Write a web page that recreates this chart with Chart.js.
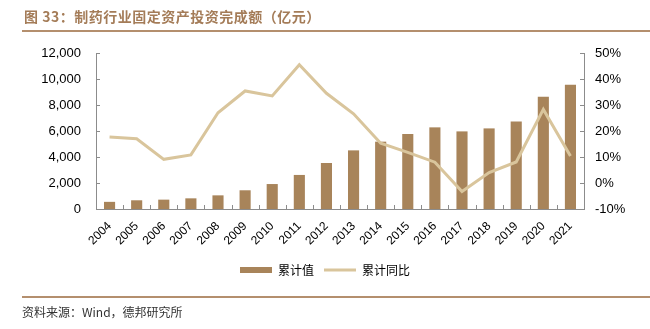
<!DOCTYPE html>
<html>
<head>
<meta charset="utf-8">
<script src="https://cdn.jsdelivr.net/npm/chart.js@4"></script>
<style>
  body { margin: 0; background: #fff; }
  #wrap { position: absolute; left: 0; top: 0; width: 650px; height: 329px; }
  #title { position: absolute; left: 24px; top: 6px; font: bold 14px "Noto Sans CJK SC", sans-serif; color: #a47c58; letter-spacing: 0.5px; white-space: nowrap; }
  .rule { position: absolute; left: 22px; right: 0; height: 2px; background: #b48f6e; }
  #src { position: absolute; left: 22px; top: 303px; font: 12px "Noto Sans CJK SC", sans-serif; color: #333; white-space: nowrap; }
</style>
</head>
<body>
<div id="wrap"><canvas id="myChart"></canvas></div>
<div id="title">图 33：制药行业固定资产投资完成额（亿元）</div>
<div class="rule" style="top:30px"></div>
<div class="rule" style="top:296px"></div>
<div id="src">资料来源：Wind，德邦研究所</div>
<script>
// data
var years = ['2004','2005','2006','2007','2008','2009','2010','2011','2012','2013','2014','2015','2016','2017','2018','2019','2020','2021'];
var cumValue = [550, 670, 720, 820, 1050, 1440, 1920, 2620, 3540, 4510, 5180, 5770, 6280, 5970, 6200, 6740, 8640, 9560];
var cumYoy = [17.7, 17.0, 9.1, 10.8, 27.0, 35.4, 33.5, 45.5, 34.5, 26.6, 15.3, 11.8, 8.0, -3.3, 4.0, 8.1, 28.3, 10.4];

var axisGrey = '#8c8c8c';

// short tick marks pointing into the plot
var innerTicks = {
  id: 'innerTicks',
  afterDraw: function(chart) {
    var ctx = chart.ctx;
    var x = chart.scales.x, y = chart.scales.y, y1 = chart.scales.y1;
    ctx.save();
    ctx.strokeStyle = axisGrey;
    ctx.lineWidth = 1;
    ctx.beginPath();
    y.ticks.forEach(function(t, i) {
      var p = Math.round(y.getPixelForTick(i)) + 0.5;
      ctx.moveTo(y.right, p); ctx.lineTo(y.right + 4, p);
    });
    y1.ticks.forEach(function(t, i) {
      var p = Math.round(y1.getPixelForTick(i)) + 0.5;
      ctx.moveTo(y1.left - 4, p); ctx.lineTo(y1.left, p);
    });
    for (var i = 0; i <= years.length; i++) {
      var px = Math.round(x.getPixelForValue(i - 0.5)) + 0.5;
      ctx.moveTo(px, x.top); ctx.lineTo(px, x.top - 4);
    }
    ctx.stroke();
    ctx.restore();
  }
};

var ctx = document.getElementById('myChart').getContext('2d');
var myChart = new Chart(ctx, {
  type: 'bar',
  data: {
    labels: years,
    datasets: [{
      label: '累计值',
      data: cumValue,
      backgroundColor: '#a8845a',
      categoryPercentage: 1,
      barPercentage: 0.41,
      yAxisID: 'y',
      order: 1
    }, {
      label: '累计同比',
      type: 'line',
      data: cumYoy,
      borderColor: '#d9c59c',
      backgroundColor: '#d9c59c',
      borderWidth: 3,
      pointRadius: 0,
      tension: 0,
      yAxisID: 'y1',
      order: 0
    }]
  },
  options: {
    responsive: true,
    maintainAspectRatio: false,
    animation: false,
    layout: { padding: { top: 53, left: 0, right: 0, bottom: 43 } },
    plugins: {
      tooltip: { enabled: false },
      legend: {
        position: 'bottom',
        labels: {
          usePointStyle: true,
          pointStyleWidth: 32,
          boxHeight: 6,
          padding: 10,
          color: '#222',
          font: { family: '"Noto Sans CJK SC", sans-serif', size: 12 },
          generateLabels: function(chart) {
            return chart.data.datasets.map(function(ds, i) {
              var isLine = ds.type === 'line';
              return {
                text: ds.label,
                fillStyle: isLine ? ds.borderColor : ds.backgroundColor,
                strokeStyle: isLine ? ds.borderColor : ds.backgroundColor,
                lineWidth: isLine ? 3 : 0,
                pointStyle: isLine ? 'line' : 'rect',
                datasetIndex: i
              };
            });
          }
        }
      }
    },
    scales: {
      x: {
        grid: { display: false, offset: true },
        border: { color: axisGrey },
        ticks: {
          color: '#000',
          font: { family: '"Liberation Sans", Arial, sans-serif', size: 12 },
          maxRotation: 45,
          minRotation: 45,
          padding: 2
        },
        afterFit: function(s) { s.height = 45; }
      },
      y: {
        position: 'left',
        min: 0,
        max: 12000,
        grid: { display: false, drawTicks: false },
        border: { color: axisGrey },
        ticks: {
          stepSize: 2000,
          padding: 15,
          color: '#000',
          font: { family: '"Liberation Sans", Arial, sans-serif', size: 13 },
          callback: function(v) { return v.toLocaleString('en-US'); }
        },
        afterFit: function(s) { s.width = 96; }
      },
      y1: {
        position: 'right',
        min: -10,
        max: 50,
        grid: { display: false, drawTicks: false },
        border: { color: axisGrey },
        ticks: {
          stepSize: 10,
          padding: 11,
          color: '#000',
          font: { family: '"Liberation Sans", Arial, sans-serif', size: 13 },
          callback: function(v) { return v + '%'; }
        },
        afterFit: function(s) { s.width = 66; }
      }
    }
  },
  plugins: [innerTicks]
});
</script>
</body>
</html>
